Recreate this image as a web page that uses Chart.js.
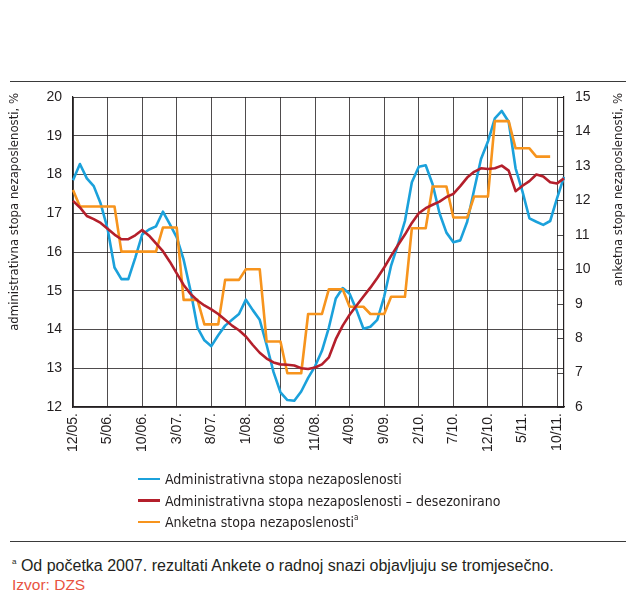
<!DOCTYPE html>
<html>
<head>
<meta charset="utf-8">
<script src="https://cdn.jsdelivr.net/npm/chart.js@4.4.1/dist/chart.umd.min.js"></script>
<style>
  body { margin: 0; background: #fff; }
  .pagina { position: relative; width: 636px; height: 599px; overflow: hidden; font-family: "Liberation Sans", Arial, sans-serif; color: #231f20; }
  .linea { position: absolute; left: 10px; width: 616px; height: 0; border-top: 1.5px solid #3a3a3a; }
  .grafico { position: absolute; left: 0; top: 0; width: 636px; height: 470px; }
  .leyenda { position: absolute; left: 138px; top: 469px; font-family: "Liberation Sans Narrow", "DejaVu Sans Condensed", sans-serif; font-size: 14px; }
  .leyenda div { height: 21.5px; line-height: 21.5px; white-space: nowrap; }
  .leyenda span.muestra { display: inline-block; width: 22px; height: 2.5px; vertical-align: middle; margin-right: 5px; position: relative; top: -1px; }
  .nota { position: absolute; left: 12px; top: 557px; font-size: 16px; white-space: nowrap; }
  .fuente { position: absolute; left: 12px; top: 576px; font-size: 15.5px; color: #e8533f; }
  sup { font-size: 8px; vertical-align: 7px; line-height: 0; }
</style>
</head>
<body>
<div class="pagina">
  <div class="linea" style="top:81px"></div>
  <div class="grafico"><canvas id="graficoParo"></canvas></div>
  <div class="leyenda">
    <div><span class="muestra" style="background:#1ba1db"></span>Administrativna stopa nezaposlenosti</div>
    <div><span class="muestra" style="background:#b41f2b"></span>Administrativna stopa nezaposlenosti – desezonirano</div>
    <div><span class="muestra" style="background:#f7941d"></span>Anketna stopa nezaposlenosti<sup>a</sup></div>
  </div>
  <div class="linea" style="top:541px"></div>
  <div class="nota"><sup>a</sup> Od početka 2007. rezultati Ankete o radnoj snazi objavljuju se tromjesečno.</div>
  <div class="fuente">Izvor: DZS</div>
</div>
<script>
// Meses (12/05. - 11/11.)
const meses = [
  '12/05.',
  '1/06.', '2/06.', '3/06.', '4/06.', '5/06.', '6/06.', '7/06.', '8/06.', '9/06.', '10/06.', '11/06.', '12/06.',
  '1/07.', '2/07.', '3/07.', '4/07.', '5/07.', '6/07.', '7/07.', '8/07.', '9/07.', '10/07.', '11/07.', '12/07.',
  '1/08.', '2/08.', '3/08.', '4/08.', '5/08.', '6/08.', '7/08.', '8/08.', '9/08.', '10/08.', '11/08.', '12/08.',
  '1/09.', '2/09.', '3/09.', '4/09.', '5/09.', '6/09.', '7/09.', '8/09.', '9/09.', '10/09.', '11/09.', '12/09.',
  '1/10.', '2/10.', '3/10.', '4/10.', '5/10.', '6/10.', '7/10.', '8/10.', '9/10.', '10/10.', '11/10.', '12/10.',
  '1/11.', '2/11.', '3/11.', '4/11.', '5/11.', '6/11.', '7/11.', '8/11.', '9/11.', '10/11.', '11/11.'
];

// Administrativna stopa nezaposlenosti (lijeva os)
const stopaAdmin = [
  17.85,
  18.27, 17.9, 17.7, 17.25, 16.6, 15.6, 15.3, 15.3, 15.85, 16.45, 16.58, 16.66,
  17.04, 16.72, 16.38, 15.8, 15.0, 14.05, 13.72, 13.57, 13.85, 14.1, 14.25, 14.4,
  14.77, 14.5, 14.25, 13.6, 12.9, 12.38, 12.18, 12.16, 12.4, 12.75, 13.05, 13.45,
  14.05, 14.8, 15.07, 14.92, 14.5, 14.02, 14.07, 14.25, 14.85, 15.65, 16.2, 16.8,
  17.8, 18.2, 18.24, 17.75, 17.0, 16.5, 16.25, 16.3, 16.78, 17.6, 18.4, 18.85,
  19.45, 19.64, 19.36, 18.16, 17.56, 16.87, 16.78, 16.7, 16.8, 17.39, 17.94
];

// Administrativna stopa nezaposlenosti - desezonirano (lijeva os)
const stopaAdminDesez = [
  17.32,
  17.15, 16.93, 16.85, 16.75, 16.6, 16.45, 16.33, 16.33, 16.43, 16.57, 16.42, 16.22,
  16.02, 15.75, 15.45, 15.15, 14.92, 14.75, 14.62, 14.52, 14.4, 14.25, 14.1, 13.98,
  13.82, 13.6, 13.4, 13.25, 13.15, 13.1, 13.09, 13.07, 13.0, 12.98, 13.02, 13.1,
  13.28, 13.75, 14.1, 14.38, 14.62, 14.85, 15.08, 15.33, 15.6, 15.9, 16.18, 16.45,
  16.75, 17.0, 17.13, 17.22, 17.3, 17.42, 17.5, 17.7, 17.92, 18.07, 18.16, 18.14,
  18.16, 18.23, 18.1, 17.57, 17.71, 17.83, 18.0, 17.95, 17.8, 17.77, 17.9
];

// Anketna stopa nezaposlenosti (desna os)
const stopaAnketa = [
  12.3,
  11.82, 11.82, 11.82, 11.82, 11.82, 11.82, 10.51, 10.51, 10.51, 10.51, 10.51, 10.51,
  11.21, 11.21, 11.21, 9.11, 9.11, 9.11, 8.4, 8.4, 8.4, 9.69, 9.69, 9.69,
  10.0, 10.0, 10.0, 7.9, 7.9, 7.9, 6.98, 6.98, 6.98, 8.7, 8.7, 8.7,
  9.42, 9.42, 9.42, 8.91, 8.91, 8.91, 8.7, 8.7, 8.7, 9.2, 9.2, 9.2,
  11.19, 11.19, 11.19, 12.4, 12.4, 12.4, 11.5, 11.5, 11.5, 12.11, 12.11, 12.11,
  14.3, 14.3, 14.3, 13.51, 13.51, 13.51, 13.27, 13.27, 13.27, null, null
];

const osLijeva = [12, 20];
const osDesna = [6, 15];

const naslovLijevo = 'administrativna stopa nezaposlenosti, %';
const naslovDesno = 'anketna stopa nezaposlenosti, %';

const colorRejilla = 'rgba(35, 31, 32, 0.8)';

// Naslovi osi i kratke crtice na desnoj osi
const dodaci = {
    id: 'dodaci',
    afterDraw(chart) {
        const { ctx, chartArea, scales } = chart;
        ctx.save();
        ctx.strokeStyle = colorRejilla;
        ctx.lineWidth = 1;
        scales.y1.ticks.forEach(t => {
            const y = Math.round(scales.y1.getPixelForValue(t.value)) + 0.5;
            ctx.beginPath();
            ctx.moveTo(chartArea.right - 7, y);
            ctx.lineTo(chartArea.right, y);
            ctx.stroke();
        });

        ctx.fillStyle = '#231f20';
        ctx.font = '13px "Liberation Sans Narrow", "DejaVu Sans Condensed", sans-serif';
        ctx.textAlign = 'right';
        ctx.textBaseline = 'middle';

        ctx.save();
        ctx.translate(15, chartArea.top - 4);
        ctx.rotate(-Math.PI / 2);
        ctx.fillText(naslovLijevo, 0, 0);
        ctx.restore();

        ctx.save();
        ctx.translate(619, chartArea.top - 4);
        ctx.rotate(-Math.PI / 2);
        ctx.fillText(naslovDesno, 0, 0);
        ctx.restore();

        ctx.restore();
    }
};

const fuenteEjes = { family: '"Liberation Sans", Arial, sans-serif', size: 14 };

const ctx = document.getElementById('graficoParo').getContext('2d');
new Chart(ctx, {
    type: 'line',
    data: {
        labels: meses,
        datasets: [
            {
                label: 'Administrativna stopa nezaposlenosti',
                data: stopaAdmin,
                borderColor: '#1ba1db',
                borderWidth: 2.6,
                yAxisID: 'y',
                order: 2
            },
            {
                label: 'Administrativna stopa nezaposlenosti – desezonirano',
                data: stopaAdminDesez,
                borderColor: '#b41f2b',
                borderWidth: 2.6,
                yAxisID: 'y',
                order: 0
            },
            {
                label: 'Anketna stopa nezaposlenosti',
                data: stopaAnketa,
                borderColor: '#f7941d',
                borderWidth: 2.6,
                yAxisID: 'y1',
                order: 1
            }
        ]
    },
    options: {
        responsive: true,
        maintainAspectRatio: false,
        animation: false,
        layout: { padding: { top: 97, left: 0, right: 0, bottom: 0 } },
        elements: {
            point: { radius: 0 },
            line: { tension: 0, borderJoinStyle: 'round', borderCapStyle: 'butt' }
        },
        plugins: {
            legend: { display: false },
            tooltip: { enabled: false }
        },
        scales: {
            x: {
                type: 'category',
                offset: false,
                afterFit: (s) => { s.height = 63; },
                grid: {
                    color: (c) => (c.index % 5 === 0 ? colorRejilla : 'rgba(0,0,0,0)'),
                    lineWidth: 1,
                    drawTicks: false
                },
                border: { color: '#231f20', width: 1.2 },
                ticks: {
                    autoSkip: false,
                    maxRotation: 90,
                    minRotation: 90,
                    padding: 6,
                    color: '#231f20',
                    font: fuenteEjes,
                    callback: function (valor, indice) {
                        return indice % 5 === 0 ? meses[indice] : '';
                    }
                }
            },
            y: {
                position: 'left',
                min: osLijeva[0],
                max: osLijeva[1],
                afterFit: (s) => { s.width = 73; },
                grid: { color: colorRejilla, lineWidth: 1, drawTicks: false },
                border: { color: '#231f20', width: 1.2 },
                ticks: { stepSize: 1, padding: 11, color: '#231f20', font: fuenteEjes }
            },
            y1: {
                position: 'right',
                min: osDesna[0],
                max: osDesna[1],
                afterFit: (s) => { s.width = 72; },
                grid: { drawOnChartArea: false, drawTicks: false },
                border: { color: '#231f20', width: 1.2 },
                ticks: { stepSize: 1, padding: 11, color: '#231f20', font: fuenteEjes }
            }
        }
    },
    plugins: [dodaci]
});
</script>
</body>
</html>
